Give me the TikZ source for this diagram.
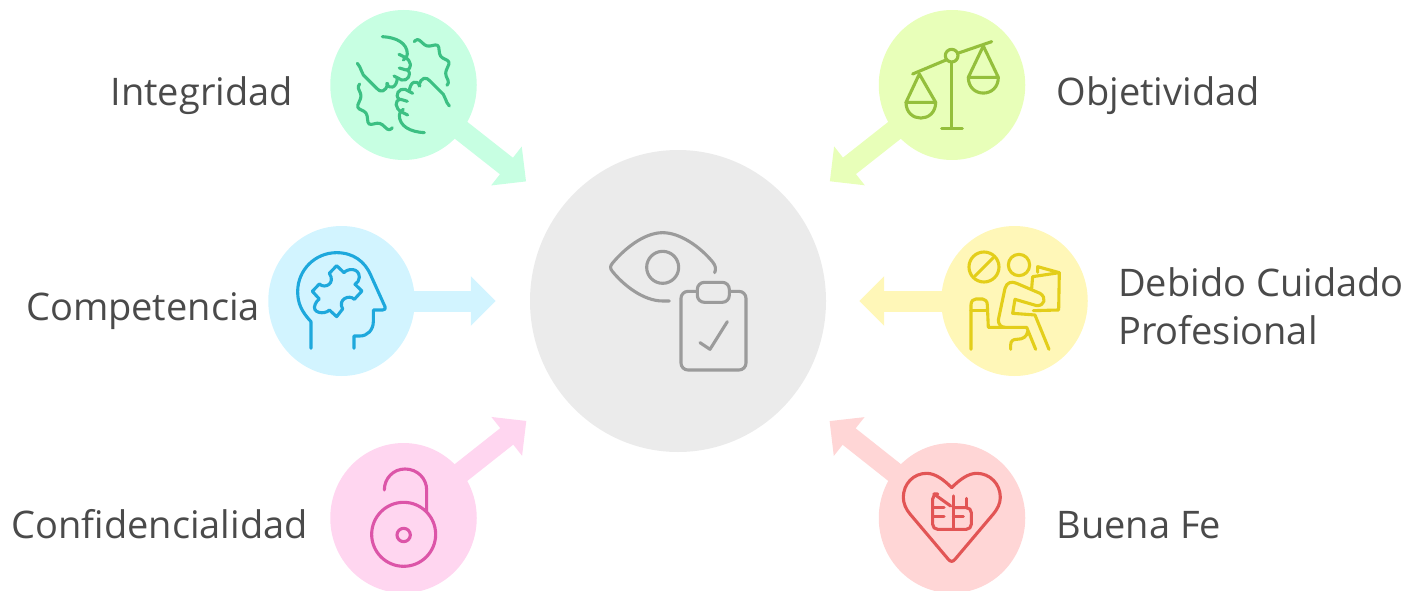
\documentclass[tikz,border=0pt]{standalone}
\usepackage{fontspec}
\setmainfont{Open Sans}
\usetikzlibrary{positioning,arrows.meta,shapes.geometric}
\definecolor{integfill}{HTML}{C7FFE2}
\definecolor{integline}{HTML}{3CC083}
\definecolor{objfill}{HTML}{E8FFB9}
\definecolor{objline}{HTML}{94BF3C}
\definecolor{compfill}{HTML}{D2F4FF}
\definecolor{compline}{HTML}{1EA8DC}
\definecolor{cuidfill}{HTML}{FFF7B8}
\definecolor{cuidline}{HTML}{E3CE1A}
\definecolor{conffill}{HTML}{FFD6F0}
\definecolor{confline}{HTML}{DC55A8}
\definecolor{fefill}{HTML}{FFD6D6}
\definecolor{feline}{HTML}{E25555}
\definecolor{hubfill}{HTML}{EBEBEB}
\definecolor{hubline}{HTML}{9B9B9B}
\definecolor{labeltext}{HTML}{4A4A4A}

\begin{document}
\begin{tikzpicture}[
  x=1pt, y=-1pt,
  blob/.style={ellipse, minimum width=146.5pt, minimum height=150pt, inner sep=0pt},
  hubblob/.style={ellipse, fill=hubfill, minimum width=296pt, minimum height=302pt, inner sep=0pt},
  lbl/.style={font=\fontsize{38}{48}\selectfont, text=labeltext, inner sep=0pt,
              text height=27pt, text depth=8pt, align=left},
  spoke/.style={line width=21pt, shorten <=-3pt, -{Triangle[length=25pt,width=48pt]}},
  iconat/.style={shift={#1}, x=.3333pt, y=-.3333pt},
  ico/.style={line width=3.1pt, line cap=round, line join=round}
]
\useasboundingbox (0,0) rectangle (1410,591);
\node[hubblob] (hub) at (678,301) {};
\node[blob, fill=integfill] (integ) at (403.5,85) {};
\node[blob, fill=objfill] (obj) at (952,85) {};
\node[blob, fill=compfill] (comp) at (341.5,301) {};
\node[blob, fill=cuidfill] (cuid) at (1014.5,301) {};
\node[blob, fill=conffill] (conf) at (403.5,518) {};
\node[blob, fill=fefill] (fe) at (952,518) {};

\node[lbl, left=37pt of integ, yshift=-11pt] (integlbl) {Integridad};
\node[lbl, right=31pt of obj, yshift=-11pt] (objlbl) {Objetividad};
\node[lbl, left=8pt of comp, yshift=-10pt] (complbl) {Competencia};
\node[lbl, right=30pt of cuid, yshift=-34pt] (cuidlbl) {Debido Cuidado\\Profesional};
\node[lbl, left=22pt of conf, yshift=-11pt] (conflbl) {Confidencialidad};
\node[lbl, right=31pt of fe, yshift=-11pt] (felbl) {Buena Fe};

\draw[spoke, integfill, shorten >=44pt] (integ) -- (hub);
\draw[spoke, objfill, shorten >=44pt] (obj) -- (hub);
\draw[spoke, compfill, shorten >=34pt] (comp) -- (hub);
\draw[spoke, cuidfill, shorten >=33pt] (cuid) -- (hub);
\draw[spoke, conffill, shorten >=44pt] (conf) -- (hub);
\draw[spoke, fefill, shorten >=44pt] (fe) -- (hub);

\begin{scope}[iconat={(590,220)}, ico, hubline]
  \draw (374,158) .. controls (378,148) and (378,138) .. (368,126) .. controls (330,80) and (270,38) .. (218,38)
    .. controls (160,38) and (100,90) .. (67,130) .. controls (60,138) and (60,146) .. (67,154)
    .. controls (100,195) and (160,243) .. (218,243) -- (238,243);
  \draw (218,142) circle[radius=48];
  \draw[rounded corners=7pt] (273,214) rectangle (468,450);
  \draw[rounded corners=7pt, fill=hubfill] (322,187) rectangle (418,247);
  \draw (330,368) -- (360,388) -- (412,305);
\end{scope}

\begin{scope}[iconat={(320,0)}, ico, integline]
  \foreach \turn in {0,180} {
    \begin{scope}[rotate around={\turn:(250,254)}]
      \draw (187,110) .. controls (230,112) and (262,130) .. (262,162) .. controls (262,170) and (258,176) .. (250,180);
      \draw (237,163) -- (255,172) .. controls (275,182) and (278,208) .. (258,210) -- (238,204);
      \draw (262,210) .. controls (278,222) and (262,245) .. (245,240) -- (222,228);
      \draw (232,234) .. controls (230,265) and (208,270) .. (200,250);
      \draw (203,250) .. controls (198,278) and (180,278) .. (170,265) -- (130,225) .. controls (122,215) and (125,205) .. (112,190);
      \draw[rounded corners=3pt] (283,125) -- (292,115) -- (320,140) -- (355,133) -- (360,170) -- (390,185) -- (375,220) -- (388,250) -- (382,255);
    \end{scope}
  }
\end{scope}

\begin{scope}[iconat={(820,0)}, ico, objline]
  \draw (278,222) -- (378,180);
  \draw (413,160) -- (515,125);
  \draw (395,167) circle[radius=19];
  \draw (395,187) -- (395,385);
  \draw (365,385) -- (427,385);
  \draw (298,222) -- (258,307) -- (347,307) -- cycle;
  \draw (258,307) .. controls (258,370) and (347,370) .. (347,307);
  \draw (490,138) -- (445,232) -- (535,232) -- cycle;
  \draw (445,232) .. controls (445,295) and (535,295) .. (535,232);
\end{scope}

\begin{scope}[iconat={(260,220)}, ico, compline]
  \draw (153,385) -- (153,305) .. controls (125,275) and (113,250) .. (113,215)
    .. controls (113,150) and (165,98) .. (230,98) .. controls (280,98) and (315,125) .. (332,165)
    -- (375,260) .. controls (377,267) and (375,270) .. (368,270) -- (340,270) -- (340,305)
    .. controls (340,330) and (322,348) .. (300,348) -- (282,348) -- (282,385);
  \draw (230,137) -- (252,158) .. controls (262,145) and (298,142) .. (298,172) .. controls (298,182) and (292,188) .. (285,193)
    -- (306,213) -- (283,238) .. controls (268,222) and (232,238) .. (248,267)
    -- (230,290) -- (208,270) .. controls (195,285) and (152,280) .. (166,252) .. controls (168,246) and (172,242) .. (178,237)
    -- (157,214) -- (178,192) .. controls (195,208) and (228,190) .. (208,160) -- cycle;
\end{scope}

\begin{scope}[iconat={(850,220)}, ico, cuidline]
  \draw (402,141) circle[radius=45];
  \draw (375,168) -- (430,113);
  \draw (507,135) circle[radius=32];
  \draw (563,157) -- (563,140) -- (628,158) -- (626,270) -- (550,272);
  \draw (628,158) -- (548,170) -- (545,205);
  \draw (445,300) -- (465,205) .. controls (470,187) and (485,183) .. (500,190) -- (570,220)
    .. controls (590,232) and (585,258) .. (560,257) -- (495,238) -- (488,280) -- (555,285) -- (597,388);
  \draw (445,300) .. controls (445,315) and (455,322) .. (465,322) -- (530,322) -- (557,388);
  \draw (363,388) -- (363,255) .. controls (363,243) and (370,237) .. (378,237) -- (398,237)
    .. controls (406,237) and (412,245) .. (412,255) -- (415,322) -- (465,322);
  \draw (363,272) -- (412,272);
  \draw (482,388) -- (482,375) .. controls (482,362) and (490,358) .. (500,358) .. controls (520,358) and (530,350) .. (533,335);
\end{scope}

\begin{scope}[iconat={(320,410)}, ico, confline]
  \draw (251,373) circle[radius=96];
  \draw (251,375) circle[radius=20];
  \draw (193,240) .. controls (193,205) and (220,177) .. (255,177) .. controls (292,177) and (320,205) .. (320,240) -- (320,305);
\end{scope}

\begin{scope}[iconat={(820,410)}, ico, feline]
  \draw (395,233) .. controls (420,208) and (445,190) .. (470,190) .. controls (510,190) and (541,222) .. (541,262)
    .. controls (541,280) and (532,298) .. (520,312) -- (405,448) .. controls (398,456) and (392,456) .. (385,448)
    -- (270,312) .. controls (258,298) and (250,280) .. (250,262) .. controls (250,222) and (280,190) .. (320,190)
    .. controls (345,190) and (370,208) .. (395,233);
  \draw[rounded corners=5pt] (342,252) -- (338,252) -- (338,358) -- (454,358) -- (454,293) -- (400,293);
  \draw (342,252) -- (392,288);
  \draw (400,258) -- (400,358);
  \draw (340,293) -- (372,293);
  \draw (340,320) -- (372,320);
  \draw (400,320) -- (430,320);
  \draw (440,265) -- (440,293);
\end{scope}
\end{tikzpicture}
\end{document}
